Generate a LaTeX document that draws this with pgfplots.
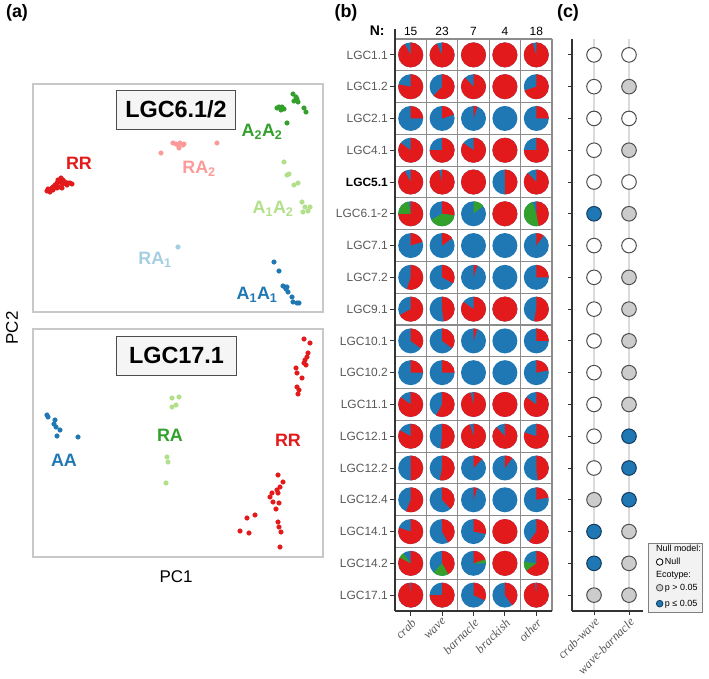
\documentclass[border=0pt]{standalone}
\usepackage{fontspec}
\setmainfont{Liberation Sans}
\newfontfamily\tnr{Liberation Serif}
\usepackage{pgfplots}
\usepackage{pgfplotstable}
\pgfplotsset{compat=1.18}

\definecolor{cred}{HTML}{E31A1C}
\definecolor{cpink}{HTML}{FB9A99}
\definecolor{cgreen}{HTML}{33A02C}
\definecolor{clgreen}{HTML}{B2DF8A}
\definecolor{clblue}{HTML}{A6CEE3}
\definecolor{cblue}{HTML}{1F78B4}
\definecolor{boxgray}{HTML}{C8C8C8}
\definecolor{cellgray}{HTML}{8C8C8C}
\definecolor{axisdark}{HTML}{333333}
\definecolor{ticklab}{HTML}{595959}
\definecolor{nullgray}{HTML}{CCCCCC}
\definecolor{circdark}{HTML}{4D4D4D}
\definecolor{bluedark}{HTML}{123A5C}
\definecolor{vgrid}{HTML}{DADADA}
\definecolor{legfill}{HTML}{F2F2F2}

\newcommand\fs[1]{\fontsize{#1}{#1}\selectfont}
\pgfdeclareplotmark{blank}{}

% n = null model, g = ecotype p > 0.05, b = ecotype p <= 0.05
\pgfplotstableread{
row cw wb
1 n n
2 n g
3 n n
4 n g
5 n n
6 b g
7 n n
8 n g
9 n g
10 n g
11 n g
12 n g
13 n b
14 n b
15 g b
16 b g
17 b g
18 g g
}\ctab

\begin{document}
\begin{tikzpicture}
\path[use as bounding box] (0,0) rectangle (709bp,-679bp);

\node[font=\bfseries\fs{18}] at (17bp,-13bp) {(a)};
\node[font=\bfseries\fs{18}] at (346bp,-13bp) {(b)};
\node[font=\bfseries\fs{18}] at (568bp,-13bp) {(c)};
\node[font=\fs{17}, rotate=90] at (12bp,-328bp) {PC2};
\node[font=\fs{17}] at (176bp,-577bp) {PC1};

% ---------- (a) top: LGC6.1/2
\begin{axis}[at={(33bp,-312bp)}, anchor=south west, scale only axis,
  width=290bp, height=228bp, xmin=33, xmax=323, ymin=-312, ymax=-84,
  xtick=\empty, ytick=\empty, clip=false,
  axis line style={draw=boxgray, line width=1.2bp},
  every axis plot/.append style={only marks, mark=*, mark size=2.3bp}]
\addplot[cred] table[y expr=-\thisrow{y}] {
x y
47 191
48 189
50 190
52 188
53 187
55 185
57 183
58 180
60 182
62 183
63 184
65 182
67 185
68 183
70 183
72 184
59 187
62 188
57 188
53 190
50 192
63 180
61 178
};
\addplot[cpink] table[y expr=-\thisrow{y}] {
x y
161 153
173 143
176 144
178 145
180 143
183 145
184 144
179 148
217 143
};
\addplot[cgreen] table[y expr=-\thisrow{y}] {
x y
293 94
296 97
297 99
298 102
294 101
277 108
279 107
282 107
284 109
281 110
304 108
306 112
287 123
};
\addplot[clgreen] table[y expr=-\thisrow{y}] {
x y
284 162
287 175
289 174
294 185
298 183
302 202
305 207
308 211
310 207
303 212
};
\addplot[clblue] table[y expr=-\thisrow{y}] {
x y
178 247
};
\addplot[cblue] table[y expr=-\thisrow{y}] {
x y
274 262
279 271
283 286
285 287
287 287
286 289
288 292
292 297
293 302
297 303
299 303
};
\node[text=cred, font=\bfseries\fs{18}] at (axis cs:79,-163) {RR};
\node[text=cpink, font=\bfseries\fs{18}] at (axis cs:199,-169) {RA\textsubscript{2}};
\node[text=cgreen, font=\bfseries\fs{18}] at (axis cs:262,-132) {A\textsubscript{2}A\textsubscript{2}};
\node[text=clgreen, font=\bfseries\fs{18}] at (axis cs:273,-209) {A\textsubscript{1}A\textsubscript{2}};
\node[text=clblue, font=\bfseries\fs{18}] at (axis cs:155,-260) {RA\textsubscript{1}};
\node[text=cblue, font=\bfseries\fs{18}] at (axis cs:257,-295) {A\textsubscript{1}A\textsubscript{1}};
\node[draw=circdark, fill=black!4, line width=1bp, minimum width=118bp, minimum height=39bp,
  font=\bfseries\fs{23.5}] at (axis cs:176,-109.5) {LGC6.1/2};
\end{axis}

% ---------- (a) bottom: LGC17.1
\begin{axis}[at={(33bp,-557bp)}, anchor=south west, scale only axis,
  width=290bp, height=228bp, xmin=33, xmax=323, ymin=-557, ymax=-329,
  xtick=\empty, ytick=\empty, clip=false,
  axis line style={draw=boxgray, line width=1.2bp},
  every axis plot/.append style={only marks, mark=*, mark size=2.3bp}]
\addplot[cblue] table[y expr=-\thisrow{y}] {
x y
47 415
48 417
55 420
54 424
56 427
60 430
57 436
78 437
};
\addplot[clgreen] table[y expr=-\thisrow{y}] {
x y
172 398
179 397
172 407
176 405
167 457
168 462
166 483
};
\addplot[cred] table[y expr=-\thisrow{y}] {
x y
304 339
310 343
308 353
307 357
305 360
304 363
306 365
296 368
297 373
302 378
297 387
299 390
298 394
278 475
283 482
280 487
277 490
272 493
270 497
278 493
273 502
279 503
276 509
278 522
279 527
281 532
247 518
255 515
240 531
249 533
280 547
};
\node[text=cblue, font=\bfseries\fs{18}] at (axis cs:64,-460) {AA};
\node[text=cgreen, font=\bfseries\fs{18}] at (axis cs:170,-435) {RA};
\node[text=cred, font=\bfseries\fs{18}] at (axis cs:288,-440) {RR};
\node[draw=circdark, fill=black!4, line width=1bp, minimum width=119bp, minimum height=39bp,
  font=\bfseries\fs{23.5}] at (axis cs:176.5,-355.5) {LGC17.1};
\end{axis}

% ---------- (b) pie grid
\begin{axis}[at={(395bp,-611bp)}, anchor=south west, scale only axis,
  width=157bp, height=572bp, xmin=0.5, xmax=5.5, ymin=-18.5, ymax=-0.5,
  clip=false,
  axis x line*=bottom, axis y line*=left,
  axis line style={draw=axisdark, line width=1.2bp},
  xtick={1,...,5}, xticklabels={crab,wave,barnacle,brackish,other},
  ytick={-1,-2,...,-18},
  yticklabels={LGC1.1,LGC1.2,LGC2.1,LGC4.1,{\bfseries\color{black}LGC5.1},LGC6.1-2,LGC7.1,LGC7.2,LGC9.1,LGC10.1,LGC10.2,LGC11.1,LGC12.1,LGC12.2,LGC12.4,LGC14.1,LGC14.2,LGC17.1},
  minor xtick={0.5,1.5,...,5.5}, minor ytick={-18.5,-17.5,...,-0.5},
  grid=minor, minor grid style={draw=cellgray, line width=1.1bp},
  minor tick length=0pt, major tick length=5bp, tick align=outside,
  tick style={draw=axisdark, line width=1bp},
  yticklabel style={font=\fs{12}, text=ticklab, inner sep=2bp},
  xticklabel style={font=\tnr\itshape\fs{12.5}, text=ticklab, rotate=45, anchor=north east, inner sep=1bp}]
% pie fractions, clockwise from 12 o'clock: red, then green, rest blue
\addplot[scatter, only marks, mark=blank,
  visualization depends on={value \thisrow{r} \as \pr},
  visualization depends on={value \thisrow{g} \as \pg},
  scatter/@pre marker code/.code={%
    \pgfmathsetmacro\ea{90-360*\pr}%
    \pgfmathsetmacro\eb{\ea-360*\pg}%
    \pgfsetfillcolor{cblue}%
    \pgfpathcircle{\pgfpointorigin}{12.5bp}\pgfusepath{fill}%
    \ifdim\pr pt>0pt
      \pgfsetfillcolor{cred}%
      \pgfpathmoveto{\pgfpointorigin}%
      \pgfpathlineto{\pgfpointpolar{90}{12.5bp}}%
      \pgfpatharc{90}{\ea}{12.5bp}%
      \pgfpathclose\pgfusepath{fill}%
    \fi
    \ifdim\pg pt>0pt
      \pgfsetfillcolor{cgreen}%
      \pgfpathmoveto{\pgfpointorigin}%
      \pgfpathlineto{\pgfpointpolar{\ea}{12.5bp}}%
      \pgfpatharc{\ea}{\eb}{12.5bp}%
      \pgfpathclose\pgfusepath{fill}%
    \fi},
  scatter/@post marker code/.code={}]
  table[x=x, y=y] {
x y r g
1 -1 0.92 0
2 -1 0.93 0
3 -1 1 0
4 -1 1 0
5 -1 0.95 0
1 -2 0.78 0
2 -2 0.62 0
3 -2 0.88 0
4 -2 1 0
5 -2 0.70 0
1 -3 0.25 0
2 -3 0.20 0
3 -3 0.05 0
4 -3 0 0
5 -3 0.25 0
1 -4 0.85 0
2 -4 0.75 0
3 -4 0.85 0
4 -4 1 0
5 -4 0.75 0
1 -5 0.92 0
2 -5 0.96 0
3 -5 1 0
4 -5 0.5 0
5 -5 0.88 0
1 -6 0.75 0.22
2 -6 0.27 0.40
3 -6 0 0.14
4 -6 1 0
5 -6 0.47 0.48
1 -7 0.20 0
2 -7 0.15 0
3 -7 0 0
4 -7 0 0
5 -7 0.10 0
1 -8 0.55 0
2 -8 0.33 0
3 -8 0.05 0
4 -8 0 0
5 -8 0.25 0
1 -9 0.67 0
2 -9 0.48 0
3 -9 0.85 0
4 -9 1 0
5 -9 0.53 0
1 -10 0.35 0
2 -10 0.35 0
3 -10 0.05 0
4 -10 0 0
5 -10 0.25 0
1 -11 0.25 0
2 -11 0.25 0
3 -11 0 0
4 -11 0 0
5 -11 0.22 0
1 -12 0.85 0
2 -12 0.58 0
3 -12 0.96 0
4 -12 1 0
5 -12 0.85 0
1 -13 0.83 0
2 -13 0.52 0
3 -13 0.95 0
4 -13 0.88 0
5 -13 0.80 0
1 -14 0.50 0
2 -14 0.53 0
3 -14 0.12 0
4 -14 0.10 0
5 -14 0.48 0
1 -15 0.56 0
2 -15 0.38 0
3 -15 0.05 0
4 -15 0 0
5 -15 0.22 0
1 -16 0.80 0
2 -16 0.42 0
3 -16 0.28 0
4 -16 1 0
5 -16 0.60 0
1 -17 0.83 0.07
2 -17 0.42 0.20
3 -17 0.20 0.05
4 -17 1 0
5 -17 0.65 0.12
1 -18 0.98 0
2 -18 0.75 0
3 -18 0.32 0
4 -18 0.40 0
5 -18 0.98 0
};
\draw[axisdark, line width=1.2bp] (axis cs:0.5,-0.5) -- ++(0pt,10bp);
\node[font=\bfseries\fs{14}, anchor=east] at ([xshift=-7bp]axis cs:0.5,-0.25) {N:};
\node[font=\fs{12}] at (axis cs:1,-0.25) {15};
\node[font=\fs{12}] at (axis cs:2,-0.25) {23};
\node[font=\fs{12}] at (axis cs:3,-0.25) {7};
\node[font=\fs{12}] at (axis cs:4,-0.25) {4};
\node[font=\fs{12}] at (axis cs:5,-0.25) {18};
\end{axis}

% ---------- (c) null model vs ecotype
\begin{axis}[at={(572bp,-611bp)}, anchor=south west, scale only axis,
  width=71bp, height=572bp, xmin=0.371, xmax=2.4, ymin=-18.5, ymax=-0.5,
  clip=false,
  axis x line*=bottom, axis y line*=left,
  axis line style={draw=axisdark, line width=1.2bp},
  xtick={1,2}, xticklabels={crab-wave,wave-barnacle},
  ytick={-1,-2,...,-18}, yticklabels={},
  xmajorgrids, major grid style={draw=vgrid, line width=1.5bp},
  major tick length=4bp, tick align=outside,
  tick style={draw=axisdark, line width=1bp},
  xticklabel style={font=\tnr\itshape\fs{12.5}, text=ticklab, rotate=45, anchor=north east, inner sep=1bp},
  legend style={at={(1.07,-0.003)}, anchor=south west, fill=legfill, draw=gray,
    font=\fs{9}, inner xsep=3bp, inner ysep=3bp, row sep=4.2bp},
  legend cell align=left]
\addplot[scatter, only marks, point meta=explicit symbolic, forget plot,
  scatter/classes={
    n={mark=*, mark size=7.3bp, draw=circdark, fill=white, line width=1bp},
    g={mark=*, mark size=7.3bp, draw=circdark, fill=nullgray, line width=1bp},
    b={mark=*, mark size=7.3bp, draw=bluedark, fill=cblue, line width=1bp}}]
  table[x expr=1, y expr=-\thisrow{row}, meta=cw] {\ctab};
\addplot[scatter, only marks, point meta=explicit symbolic, forget plot,
  scatter/classes={
    n={mark=*, mark size=7.3bp, draw=circdark, fill=white, line width=1bp},
    g={mark=*, mark size=7.3bp, draw=circdark, fill=nullgray, line width=1bp},
    b={mark=*, mark size=7.3bp, draw=bluedark, fill=cblue, line width=1bp}}]
  table[x expr=2, y expr=-\thisrow{row}, meta=wb] {\ctab};
\addlegendimage{legend image code/.code={\node[overlay, anchor=west, inner sep=0pt, font=\fs{9}] at ([xshift=-3.8bp]0.3cm,0pt) {Null model:};}}
\addlegendentry{}
\addlegendimage{only marks, mark=*, mark size=3.3bp, mark options={draw=black, fill=white, line width=0.8bp}}
\addlegendentry{Null}
\addlegendimage{legend image code/.code={\node[overlay, anchor=west, inner sep=0pt, font=\fs{9}] at ([xshift=-3.8bp]0.3cm,0pt) {Ecotype:};}}
\addlegendentry{}
\addlegendimage{only marks, mark=*, mark size=3.3bp, mark options={draw=circdark, fill=nullgray, line width=0.8bp}}
\addlegendentry{p > 0.05}
\addlegendimage{only marks, mark=*, mark size=3.3bp, mark options={draw=bluedark, fill=cblue, line width=0.8bp}}
\addlegendentry{p ≤ 0.05}
\end{axis}
\end{tikzpicture}
\end{document}
